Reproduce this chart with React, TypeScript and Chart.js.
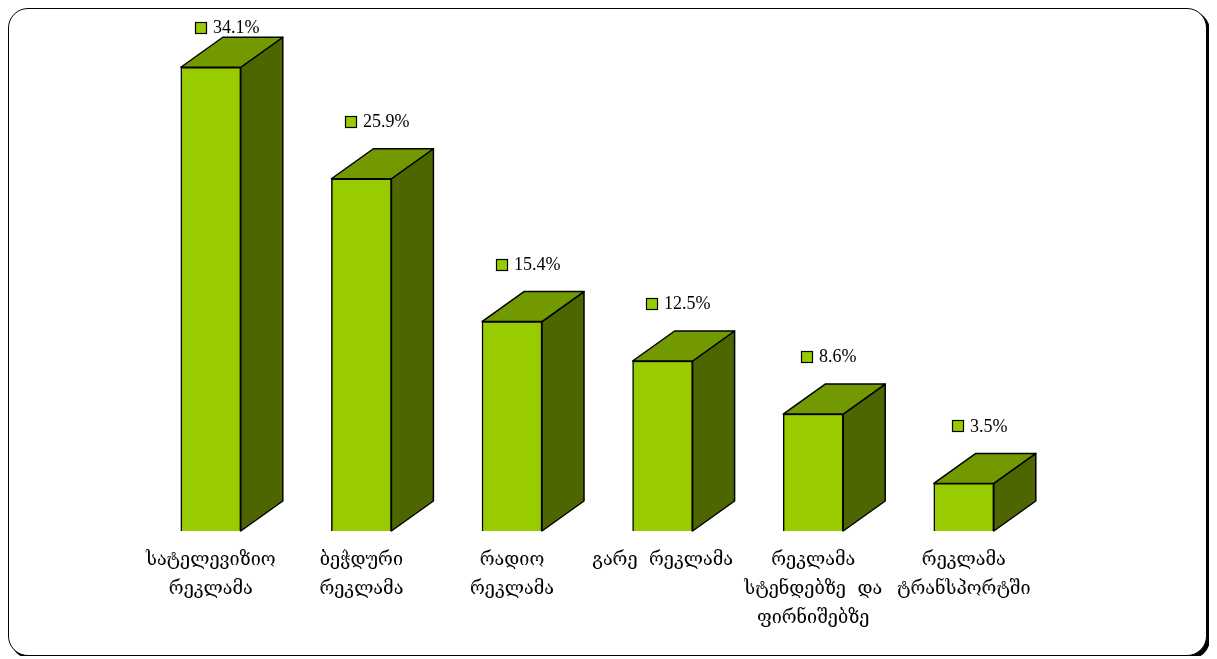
import React, { useEffect, useRef } from "react";
import { Chart, registerables } from "chart.js";

Chart.register(...registerables);

const categoryLabels: string[][] = [
  ["სატელევიზიო", "რეკლამა"],
  ["ბეჭდური", "რეკლამა"],
  ["რადიო", "რეკლამა"],
  ["გარე  რეკლამა"],
  ["რეკლამა", "სტენდებზე  და", "ფირნიშებზე"],
  ["რეკლამა", "ტრანსპორტში"],
];
const shareValues: number[] = [34.1, 25.9, 15.4, 12.5, 8.6, 3.5];
const valueLabels: string[] = ["34.1%", "25.9%", "15.4%", "12.5%", "8.6%", "3.5%"];

const FRONT = "#99CC00";
const TOP = "#739900";
const SIDE = "#4D6600";
const DX = 42;
const DY = 30;

const bar3d = {
  id: "bar3d",
  beforeDatasetsDraw(chart: any) {
    const ctx = chart.ctx;
    const meta = chart.getDatasetMeta(0);
    ctx.save();
    ctx.lineWidth = 1.5;
    ctx.strokeStyle = "#000";
    ctx.lineJoin = "round";
    meta.data.forEach((el: any) => {
      const p = el.getProps(["x", "y", "base", "width"], true);
      const l = p.x - p.width / 2;
      const r = p.x + p.width / 2;
      const t = p.y;
      const b = p.base;
      ctx.beginPath();
      ctx.moveTo(r, t);
      ctx.lineTo(r + DX, t - DY);
      ctx.lineTo(r + DX, b - DY);
      ctx.lineTo(r, b);
      ctx.closePath();
      ctx.fillStyle = SIDE;
      ctx.fill();
      ctx.stroke();
      ctx.beginPath();
      ctx.moveTo(l, t);
      ctx.lineTo(l + DX, t - DY);
      ctx.lineTo(r + DX, t - DY);
      ctx.lineTo(r, t);
      ctx.closePath();
      ctx.fillStyle = TOP;
      ctx.fill();
      ctx.stroke();
    });
    ctx.restore();
  },
  afterDatasetsDraw(chart: any) {
    const ctx = chart.ctx;
    const meta = chart.getDatasetMeta(0);
    ctx.save();
    ctx.font = "18px 'Liberation Serif', 'Times New Roman', serif";
    ctx.textBaseline = "middle";
    ctx.textAlign = "left";
    meta.data.forEach((el: any, i: number) => {
      const p = el.getProps(["x", "y"], true);
      const text = valueLabels[i];
      const tw = ctx.measureText(text).width;
      const sq = 11;
      const gap = 7;
      const total = sq + gap + tw;
      const cx = p.x + 16;
      const cy = Math.max(p.y - 57.5, 18.5);
      const x0 = Math.round(cx - total / 2);
      ctx.fillStyle = FRONT;
      ctx.fillRect(x0 + 0.5, Math.round(cy - sq / 2) + 0.5, sq, sq);
      ctx.strokeStyle = "#000";
      ctx.lineWidth = 1.2;
      ctx.strokeRect(x0 + 0.5, Math.round(cy - sq / 2) + 0.5, sq, sq);
      ctx.fillStyle = "#000";
      ctx.fillText(text, x0 + sq + gap, cy + 1);
    });
    ctx.restore();
  },
};

export default function App() {
  const ref = useRef<HTMLCanvasElement>(null);
  useEffect(() => {
    if (!ref.current) return;
    const chart = new Chart(ref.current, {
      type: "bar",
      data: {
        labels: categoryLabels,
        datasets: [
          {
            data: shareValues,
            backgroundColor: FRONT,
            borderColor: "#000",
            borderWidth: 1.5,
            barThickness: 60,
          },
        ],
      },
      options: {
        animation: false,
        responsive: true,
        maintainAspectRatio: false,
        layout: { padding: { left: 126.5, right: 166.9, top: 32.4, bottom: 0 } },
        plugins: { legend: { display: false }, tooltip: { enabled: false } },
        scales: {
          y: { display: false, min: 0, max: 36 },
          x: {
            grid: { display: false, drawTicks: false },
            border: { display: false },
            ticks: {
              color: "#000",
              padding: 14.5,
              maxRotation: 0,
              autoSkip: false,
              font: { family: "'DejaVu Serif', 'DejaVu Sans', serif", size: 18, lineHeight: 1.62 },
            },
            afterFit: (s: any) => {
              s.height = 124;
            },
          },
        },
      },
      plugins: [bar3d],
    });
    return () => chart.destroy();
  }, []);
  return (
    <div
      style={{
        position: "relative",
        width: 1197,
        height: 646,
        border: "1px solid #000",
        borderRadius: 20,
        boxShadow: "3px 3px 0 #000",
        background: "#fff",
      }}
    >
      <canvas ref={ref} />
    </div>
  );
}
